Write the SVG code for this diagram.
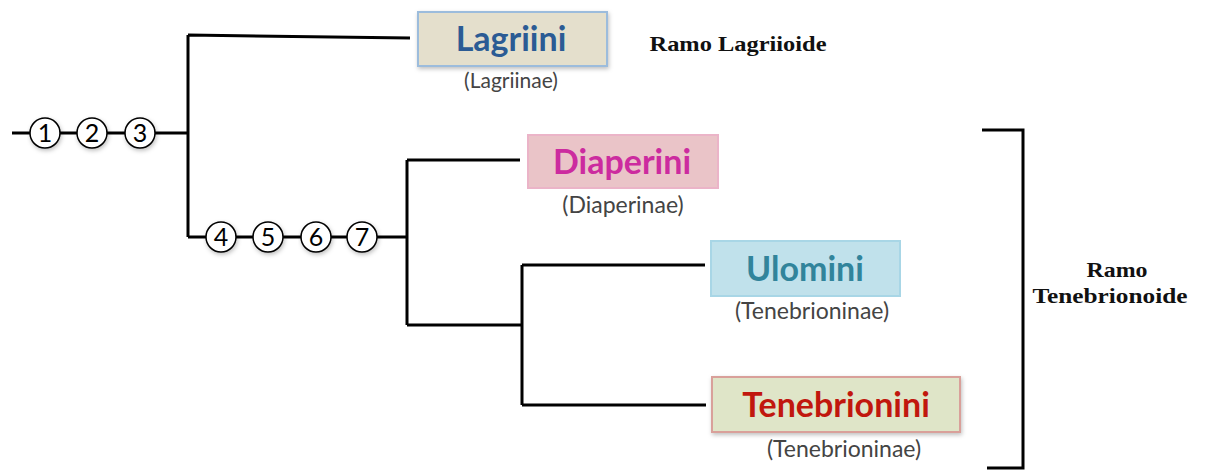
<svg xmlns="http://www.w3.org/2000/svg" width="1206" height="473" viewBox="0 0 1206 473">
<defs>
<filter id="sh" x="-10%" y="-10%" width="130%" height="140%">
<feDropShadow dx="1" dy="2" stdDeviation="2" flood-color="#000" flood-opacity="0.25"/>
</filter>
<style>
.ln{fill:none;stroke:#000;stroke-width:3}
.cir{fill:#fff;stroke:#000;stroke-width:1.5}
.num{font-family:Lato,"Open Sans",sans-serif;font-size:25px;fill:#000;text-anchor:middle}
.nm{font-family:Lato,"Open Sans",sans-serif;font-weight:bold;font-size:34px;text-anchor:middle}
.sub{font-family:Lato,"Open Sans",sans-serif;font-size:22px;fill:#444;text-anchor:middle}
.ramo{font-family:"Liberation Serif",serif;font-weight:bold;font-size:21px;fill:#111;text-anchor:middle}
</style>
</defs>
<rect width="1206" height="473" fill="#fff"/>
<g id="connectors">
<path class="ln" d="M12,133 H188 M188,35 V237 M188,35 L410,38 M188,237 H407 M407,160 V325 M407,160 H520 M407,325 H522 M522,265 V405 M522,265 H705 M522,405 H706"/>
<path class="ln" d="M982,130 H1023 V468 H987"/>
</g>
<g id="markers">
<circle class="cir" cx="45" cy="133" r="15" filter="url(#sh)"/><text class="num" x="45" y="142">1</text>
<circle class="cir" cx="92" cy="133" r="15" filter="url(#sh)"/><text class="num" x="92" y="142">2</text>
<circle class="cir" cx="140" cy="133" r="15" filter="url(#sh)"/><text class="num" x="140" y="142">3</text>
<circle class="cir" cx="221" cy="237" r="15" filter="url(#sh)"/><text class="num" x="221" y="246">4</text>
<circle class="cir" cx="268" cy="237" r="15" filter="url(#sh)"/><text class="num" x="268" y="246">5</text>
<circle class="cir" cx="316" cy="237" r="15" filter="url(#sh)"/><text class="num" x="316" y="246">6</text>
<circle class="cir" cx="362" cy="237" r="15" filter="url(#sh)"/><text class="num" x="362" y="246">7</text>
</g>
<g id="lagriini">
<rect x="418" y="12" width="189" height="54" fill="#e4dfcc" stroke="#9cbcdc" stroke-width="2" filter="url(#sh)"/>
<text class="nm" x="511" y="51" fill="#2b5b94">Lagriini</text>
<text class="sub" x="511" y="88" style="font-size:21px">(Lagriinae)</text>
</g>
<g id="diaperini">
<rect x="528" y="135" width="190" height="53" fill="#eac4c8" stroke="#ebb4c8" stroke-width="2"/>
<text class="nm" x="622" y="174" fill="#cc2b9f">Diaperini</text>
<text class="sub" x="623" y="213" style="font-size:23px">(Diaperinae)</text>
</g>
<g id="ulomini">
<rect x="711" y="241" width="189" height="55" fill="#c0e1eb" stroke="#a8d6e6" stroke-width="2"/>
<text class="nm" x="805" y="281" fill="#31849b">Ulomini</text>
<text class="sub" x="812" y="319" style="font-size:23px">(Tenebrioninae)</text>
</g>
<g id="tenebrionini">
<rect x="712" y="377" width="248" height="55" fill="#dfe5c8" stroke="#d9a09a" stroke-width="2" filter="url(#sh)"/>
<text class="nm" x="836" y="417" fill="#c1170e">Tenebrionini</text>
<text class="sub" x="844" y="457" style="font-size:23px">(Tenebrioninae)</text>
</g>
<g id="labels">
<text class="ramo" x="738" y="51" textLength="177" lengthAdjust="spacingAndGlyphs">Ramo Lagriioide</text>
<text class="ramo" x="1117" y="277" textLength="61" lengthAdjust="spacingAndGlyphs">Ramo</text>
<text class="ramo" x="1110" y="303" textLength="155" lengthAdjust="spacingAndGlyphs">Tenebrionoide</text>
</g>
</svg>
